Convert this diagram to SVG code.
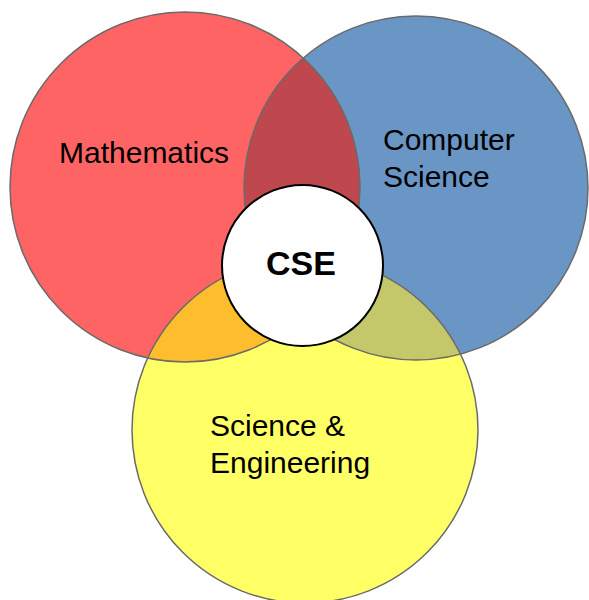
<svg xmlns="http://www.w3.org/2000/svg" width="589" height="600" viewBox="0 0 589 600">
<style>
.lbl{font-family:"Liberation Sans",Arial,sans-serif;font-size:30px;fill:#000}
.cse{font-family:"Liberation Sans",Arial,sans-serif;font-size:34px;font-weight:bold;fill:#000}
.edge{fill:none;stroke:#6a6a6a;stroke-width:1.5}
</style>
<defs>
<clipPath id="cRed"><circle cx="185" cy="187" r="175"/></clipPath>
<clipPath id="cBlue"><circle cx="416" cy="188" r="172"/></clipPath>
</defs>
<rect width="589" height="600" fill="#fff"/>
<g id="circles">
<circle cx="185" cy="187" r="175" fill="#FF6464"/>
<circle cx="416" cy="188" r="172" fill="#6A96C6"/>
<circle cx="305" cy="430" r="173" fill="#FFFF66"/>
<circle cx="416" cy="188" r="172" fill="#BF474E" clip-path="url(#cRed)"/>
<circle cx="305" cy="430" r="173" fill="#FDBD2C" clip-path="url(#cRed)"/>
<circle cx="305" cy="430" r="173" fill="#C4C86A" clip-path="url(#cBlue)"/>
<circle class="edge" cx="185" cy="187" r="175"/>
<circle class="edge" cx="416" cy="188" r="172"/>
<circle class="edge" cx="305" cy="430" r="173"/>
</g>
<g id="math"><text class="lbl" x="59" y="163">Mathematics</text></g>
<g id="cs"><text class="lbl" x="383" y="150">Computer</text><text class="lbl" x="383" y="187">Science</text></g>
<g id="se"><text class="lbl" x="210" y="436">Science &amp;</text><text class="lbl" x="210" y="473">Engineering</text></g>
<g id="cse">
<circle cx="302.5" cy="265.5" r="80.5" fill="#fff" stroke="#000" stroke-width="2"/>
<text class="cse" x="301" y="275" text-anchor="middle">CSE</text>
</g>
</svg>
